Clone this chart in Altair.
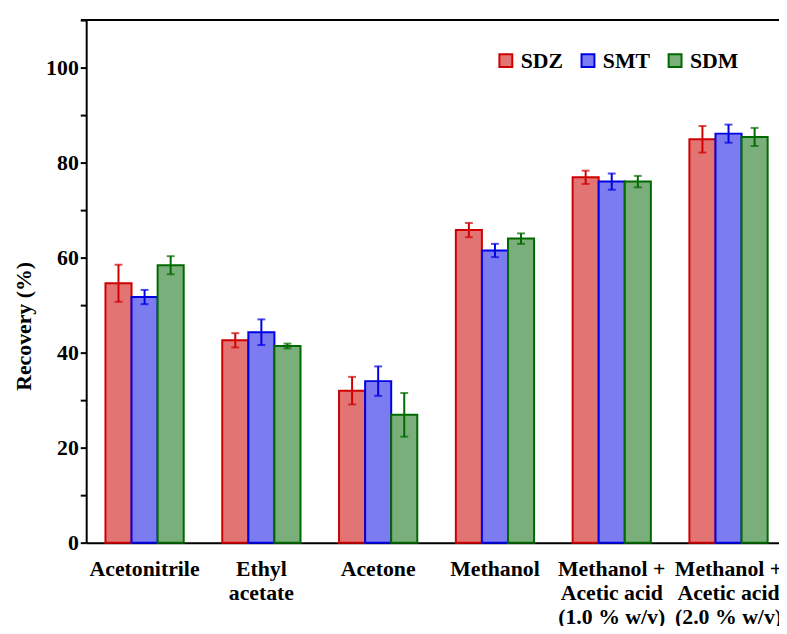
import altair as alt
import pandas as pd

categories = ["Acetonitrile", "Ethyl|acetate", "Acetone", "Methanol",
              "Methanol +|Acetic acid|(1.0 % w/v)", "Methanol +|Acetic acid|(2.0 % w/v)"]
series = ["SDZ", "SMT", "SDM"]
sdz = [54.6, 42.6, 32.0, 65.8, 76.9, 84.9]
sdz_err = [3.9, 1.5, 2.9, 1.5, 1.4, 2.8]
smt = [51.7, 44.3, 34.0, 61.5, 76.0, 86.1]
smt_err = [1.5, 2.7, 3.1, 1.4, 1.7, 1.9]
sdm = [58.4, 41.4, 26.9, 64.0, 76.0, 85.4]
sdm_err = [1.9, 0.5, 4.6, 1.1, 1.2, 1.9]

fill_colors = ["#e27474", "#7c7cf0", "#7aae7a"]
edge_colors = ["#d00000", "#0000e6", "#006a00"]

rows = []
for s, vals, errs in [("SDZ", sdz, sdz_err), ("SMT", smt, smt_err), ("SDM", sdm, sdm_err)]:
    for c, v, e in zip(categories, vals, errs):
        rows.append({"cat": c, "series": s, "value": v, "err": e})
df = pd.DataFrame(rows)

FONT = "Times New Roman"

x_enc = alt.X("cat:N", sort=categories,
              scale=alt.Scale(paddingInner=0.33, paddingOuter=0.165),
              axis=alt.Axis(title=None, labelExpr="split(datum.value, '|')", labelAngle=0,
                            ticks=False, labelPadding=16, labelLineHeight=24.5,
                            labelFont=FONT, labelFontSize=22, labelFontWeight="bold",
                            labelColor="black", domainColor="black", domainWidth=2,
                            labelBaseline="top"))
xo = alt.XOffset("series:N", sort=series, scale=alt.Scale(paddingInner=0, paddingOuter=0))
y_scale = alt.Scale(domain=[0, 110], nice=False)

leg = alt.Legend(title=None, orient="none", legendX=413, legendY=30,
                 direction="horizontal", symbolType="square",
                 symbolSize=170, symbolStrokeWidth=2,
                 labelFont=FONT, labelFontSize=22, labelFontWeight="bold",
                 labelColor="black", columnPadding=14, labelOffset=4, padding=0)

base = alt.Chart(df)

bars = base.mark_bar(strokeWidth=2).encode(
    x=x_enc,
    xOffset=xo,
    y=alt.Y("value:Q", scale=y_scale,
            axis=alt.Axis(title="Recovery (%)", values=list(range(0, 111, 10)),
                          labelExpr="datum.value % 20 == 0 ? datum.label : ''",
                          grid=False, tickSize=6, tickWidth=2, tickColor="black",
                          domainColor="black", domainWidth=2,
                          labelFont=FONT, labelFontSize=22, labelFontWeight="bold",
                          labelColor="black", labelPadding=2,
                          titleFont=FONT, titleFontSize=22, titleFontWeight="bold",
                          titleColor="black", titlePadding=10, titleY=309)),
    fill=alt.Fill("series:N", sort=series,
                  scale=alt.Scale(domain=series, range=fill_colors), legend=leg),
    stroke=alt.Stroke("series:N", sort=series,
                      scale=alt.Scale(domain=series, range=edge_colors), legend=leg),
)

err_base = base.transform_calculate(
    hi="datum.value + datum.err", lo="datum.value - datum.err"
)
col = alt.Color("series:N", sort=series, scale=alt.Scale(domain=series, range=edge_colors),
                legend=None)

rules = err_base.mark_rule(strokeWidth=2).encode(
    x=alt.X("cat:N", sort=categories), xOffset=xo,
    y=alt.Y("lo:Q", scale=y_scale), y2="hi:Q", color=col)
cap_hi = err_base.mark_tick(thickness=2, size=8).encode(
    x=alt.X("cat:N", sort=categories), xOffset=xo,
    y=alt.Y("hi:Q", scale=y_scale), color=col)
cap_lo = err_base.mark_tick(thickness=2, size=8).encode(
    x=alt.X("cat:N", sort=categories), xOffset=xo,
    y=alt.Y("lo:Q", scale=y_scale), color=col)

top_line = alt.Chart(df).mark_rule(color="black", strokeWidth=2).encode(
    x=alt.value(-5), x2=alt.value(708), y=alt.value(0))

chart = alt.layer(bars, rules, cap_hi, cap_lo, top_line).properties(
    width=708, height=528,
    autosize=alt.AutoSizeParams(type="none"),
    padding={"left": 79, "top": 9, "right": -8, "bottom": 81},
).configure_view(stroke=None).configure(background="white")

chart.save("out.html", embed_options={"renderer": "svg", "actions": False})
